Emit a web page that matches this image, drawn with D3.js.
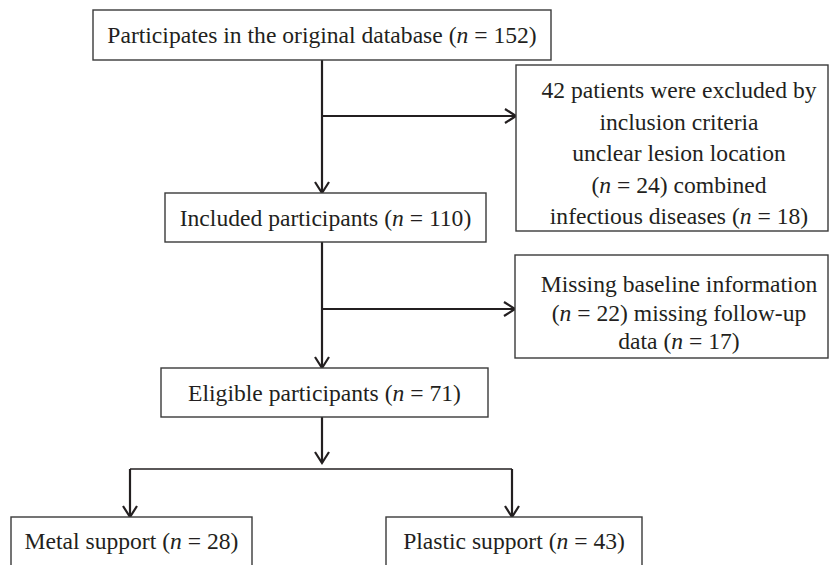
<!DOCTYPE html>
<html>
<head>
<meta charset="utf-8">
<script src="https://cdn.jsdelivr.net/npm/d3@7"></script>
<style>
  html, body { margin: 0; padding: 0; background: #fff; }
  svg { display: block; }
</style>
</head>
<body>
<svg id="chart" width="831" height="565"></svg>
<script>
// ---- data ----
const stageLabels = ["Participates in the original database", "Included participants", "Eligible participants"];
const stageN = [152, 110, 71];
const exclusion1Lines = ["42 patients were excluded by", "inclusion criteria", "unclear lesion location", "(n = 24) combined", "infectious diseases (n = 18)"];
const exclusion2Lines = ["Missing baseline information", "(n = 22) missing follow-up", "data (n = 17)"];
const groupLabels = ["Metal support", "Plastic support"];
const groupN = [28, 43];

// ---- layout ----
const ink = "#231f20";
const fontFamily = "'Liberation Serif', 'Times New Roman', serif";
const fontSize = 23.6;

const svg = d3.select("#chart");

const stageBoxes = [
  {x0: 93, x1: 551, y0: 10, y1: 60},
  {x0: 165, x1: 486, y0: 193, y1: 242},
  {x0: 161, x1: 488, y0: 368, y1: 417}
];
const exclBoxes = [
  {x0: 516, x1: 828, y0: 65, y1: 231, tx: 679, base: 98, lh: 31.5, lines: exclusion1Lines},
  {x0: 515, x1: 828, y0: 255, y1: 358, tx: 679, base: 292, lh: 28.5, lines: exclusion2Lines}
];
const groupBoxes = [
  {x0: 11, x1: 252, y0: 517, y1: 600},
  {x0: 386, x1: 642, y0: 517, y1: 600}
];
const spineX = 322;
const exclArrowY = [116, 309];
const splitY = 469;
const branchX = [130, 512];

// helper to write a line with italic "n"
function writeLine(sel, str, x, y) {
  const t = sel.append("text")
    .attr("x", x).attr("y", y)
    .attr("text-anchor", "middle")
    .attr("font-family", fontFamily)
    .attr("font-size", fontSize)
    .attr("fill", ink);
  const parts = str.split(/(\(n =)/);
  parts.forEach(p => {
    if (p === "(n =") {
      t.append("tspan").text("(");
      t.append("tspan").attr("font-style", "italic").text("n");
      t.append("tspan").text(" =");
    } else if (p.length) {
      t.append("tspan").text(p);
    }
  });
  return t;
}

function box(b) {
  svg.append("rect")
    .attr("x", b.x0).attr("y", b.y0)
    .attr("width", b.x1 - b.x0).attr("height", b.y1 - b.y0)
    .attr("fill", "#fff")
    .attr("stroke", "#3a3a3a")
    .attr("stroke-width", 1.4);
}

// arrowhead (open V)
function arrowHead(x, y, dir) {
  const L = 11, Wd = 7;
  let pts;
  if (dir === "down") pts = [[x - Wd, y - L], [x, y], [x + Wd, y - L]];
  else pts = [[x - L, y - Wd], [x, y], [x - L, y + Wd]];
  svg.append("path")
    .attr("d", d3.line()(pts))
    .attr("fill", "none")
    .attr("stroke", ink)
    .attr("stroke-width", 2.2);
}
function line(x1, y1, x2, y2, w) {
  svg.append("line")
    .attr("x1", x1).attr("y1", y1).attr("x2", x2).attr("y2", y2)
    .attr("stroke", ink).attr("stroke-width", w || 2.2);
}

// connectors
line(spineX, stageBoxes[0].y1, spineX, stageBoxes[1].y0);
arrowHead(spineX, stageBoxes[1].y0, "down");
line(spineX, exclArrowY[0], exclBoxes[0].x0, exclArrowY[0]);
arrowHead(exclBoxes[0].x0, exclArrowY[0], "right");

line(spineX, stageBoxes[1].y1, spineX, stageBoxes[2].y0);
arrowHead(spineX, stageBoxes[2].y0, "down");
line(spineX, exclArrowY[1], exclBoxes[1].x0, exclArrowY[1]);
arrowHead(exclBoxes[1].x0, exclArrowY[1], "right");

line(spineX, stageBoxes[2].y1, spineX, splitY - 6);
arrowHead(spineX, splitY - 6, "down");
line(branchX[0], splitY, branchX[1], splitY, 1.6);
branchX.forEach((bx, i) => {
  line(bx, splitY, bx, groupBoxes[i].y0);
  arrowHead(bx, groupBoxes[i].y0, "down");
});

// boxes + text
stageBoxes.forEach((b, i) => {
  box(b);
  writeLine(svg, `${stageLabels[i]} (n = ${stageN[i]})`, (b.x0 + b.x1) / 2, (b.y0 + b.y1) / 2 + 8);
});
exclBoxes.forEach(b => {
  box(b);
  b.lines.forEach((ln, j) => writeLine(svg, ln, b.tx, b.base + j * b.lh));
});
groupBoxes.forEach((b, i) => {
  box(b);
  writeLine(svg, `${groupLabels[i]} (n = ${groupN[i]})`, (b.x0 + b.x1) / 2, 549);
});
</script>
</body>
</html>
